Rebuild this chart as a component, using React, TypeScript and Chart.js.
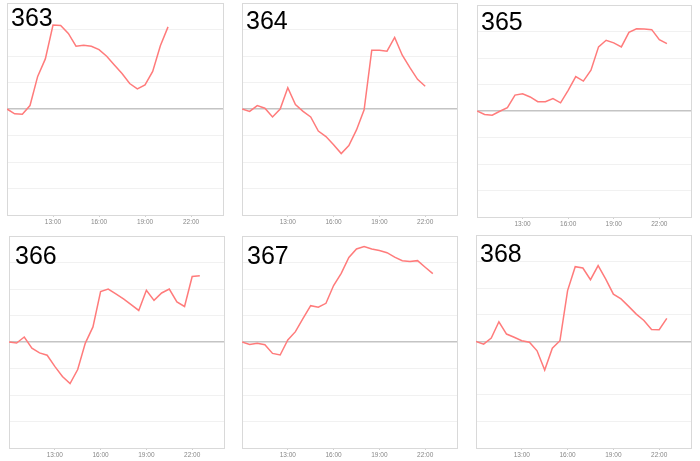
import { useEffect, useRef } from "react"
import { Chart, registerables, type Plugin } from "chart.js"

Chart.register(...registerables)

// half-hour samples, shared by every panel
const times = [
  "10:00", "10:30", "11:00", "11:30", "12:00", "12:30", "13:00", "13:30", "14:00",
  "14:30", "15:00", "15:30", "16:00", "16:30", "17:00", "17:30", "18:00", "18:30",
  "19:00", "19:30", "20:00", "20:30", "21:00", "21:30", "22:00", "22:30",
]
const tickTimes = ["13:00", "16:00", "19:00", "22:00"]
const titles = ["363", "364", "365", "366", "367", "368"]

const s363 = [
  0, -0.18, -0.2, 0.13, 1.23, 1.89, 3.17, 3.15, 2.85, 2.37, 2.41, 2.37, 2.24, 1.99,
  1.66, 1.34, 0.96, 0.76, 0.91, 1.42, 2.39, 3.1,
]
const s364 = [
  0, -0.09, 0.13, 0.03, -0.3, 0, 0.8, 0.17, -0.09, -0.3, -0.83, -1.04, -1.35, -1.68,
  -1.38, -0.79, -0.03, 2.22, 2.22, 2.18, 2.7, 2.03, 1.56, 1.12, 0.86,
]
const s365 = [
  0, -0.13, -0.16, -0.01, 0.13, 0.6, 0.65, 0.53, 0.35, 0.35, 0.47, 0.31, 0.78, 1.3,
  1.13, 1.54, 2.42, 2.67, 2.57, 2.42, 2.97, 3.1, 3.09, 3.07, 2.69, 2.54,
]
const s366 = [
  0, -0.04, 0.19, -0.23, -0.41, -0.5, -0.92, -1.3, -1.57, -1.04, -0.04, 0.57, 1.9, 2.0,
  1.82, 1.63, 1.41, 1.19, 1.95, 1.57, 1.85, 2.0, 1.51, 1.34, 2.47, 2.5,
]
const s367 = [
  0, -0.09, -0.05, -0.1, -0.43, -0.49, 0.08, 0.39, 0.89, 1.37, 1.31, 1.46, 2.13, 2.59,
  3.19, 3.51, 3.6, 3.51, 3.45, 3.37, 3.2, 3.07, 3.04, 3.07, 2.82, 2.58,
]
const s368 = [
  0, -0.1, 0.13, 0.74, 0.28, 0.16, 0.03, -0.03, -0.35, -1.07, -0.25, 0.03, 1.91, 2.81,
  2.76, 2.32, 2.85, 2.34, 1.78, 1.6, 1.32, 1.03, 0.79, 0.45, 0.44, 0.87,
]
const series = [s363, s364, s365, s366, s367, s368]

// plot box [left, top, right, bottom] and title position, page pixels
const boxes = [
  [7, 3, 224, 215],
  [242, 3, 458, 215],
  [477, 5, 692, 217],
  [9, 236, 225, 448],
  [242, 236, 458, 448],
  [476, 235, 692, 448],
]
const titlePos = [
  [11, 5],
  [246, 8],
  [481, 9],
  [15, 243],
  [247, 243],
  [480, 241],
]

const AXIS_H = 16

const toHours = (t: string) => {
  const [h, m] = t.split(":").map(Number)
  return h + m / 60
}

const framePlugin: Plugin<"line"> = {
  id: "frame",
  beforeDatasetsDraw(chart) {
    const { ctx, chartArea: a } = chart
    ctx.save()
    ctx.strokeStyle = "#d9d9d9"
    ctx.lineWidth = 1
    ctx.strokeRect(a.left + 0.5, a.top + 0.5, a.right - a.left - 1, a.bottom - a.top)
    ctx.restore()
  },
}

function Panel({ index }: { index: number }) {
  const chartRef = useRef<HTMLCanvasElement>(null)
  const [l, t, r, b] = boxes[index]
  const w = r - l + 2
  const h = b - t + 1 + AXIS_H

  useEffect(() => {
    if (!chartRef.current) return
    const ctx = chartRef.current.getContext("2d")
    if (!ctx) return

    const values = series[index]
    const chart = new Chart(ctx, {
      type: "line",
      data: {
        datasets: [
          {
            data: values.map((v, i) => ({ x: toHours(times[i]), y: v })),
            borderColor: "#ff7b7b",
            borderWidth: 1.5,
            pointRadius: 0,
            tension: 0,
          },
        ],
      },
      options: {
        responsive: false,
        animation: false,
        layout: { padding: { left: 1, right: 1, top: 1, bottom: 0 } },
        scales: {
          x: {
            type: "linear",
            min: 10,
            max: 24.15,
            afterBuildTicks: (s) => {
              s.ticks = tickTimes.map((tt) => ({ value: toHours(tt) }))
            },
            afterFit: (s) => {
              s.height = AXIS_H
            },
            ticks: {
              autoSkip: false,
              maxRotation: 0,
              padding: 1,
              color: "#888",
              font: { family: "Liberation Sans", size: 6.5 },
              callback: (v) => tickTimes.find((tt) => toHours(tt) === v) ?? "",
            },
            grid: {
              drawOnChartArea: false,
              drawTicks: true,
              tickLength: 2,
              color: "#cfcfcf",
            },
            border: { display: false },
          },
          y: {
            min: -4,
            max: 4,
            afterFit: (s) => {
              s.width = 0
            },
            ticks: { stepSize: 1, display: false },
            grid: {
              drawTicks: false,
              color: (c) => (c.tick && c.tick.value === 0 ? "#c4c4c4" : "#f1f1f1"),
              lineWidth: (c) => (c.tick && c.tick.value === 0 ? 1.6 : 1),
            },
            border: { display: false },
          },
        },
        plugins: {
          legend: { display: false },
          tooltip: { enabled: false },
        },
      },
      plugins: [framePlugin],
    })

    return () => {
      chart.destroy()
    }
  }, [index])

  return (
    <canvas
      ref={chartRef}
      width={w}
      height={h}
      style={{ position: "absolute", left: l - 1, top: t - 1, width: w, height: h }}
    />
  )
}

export default function App() {
  useEffect(() => {
    document.body.style.margin = "0"
  }, [])

  return (
    <div style={{ position: "relative", width: 700, height: 461, background: "#fff" }}>
      {titles.map((title, i) => (
        <Panel key={title} index={i} />
      ))}
      {titles.map((title, i) => (
        <div
          key={"t" + title}
          style={{
            position: "absolute",
            left: titlePos[i][0],
            top: titlePos[i][1],
            fontFamily: "Liberation Sans, sans-serif",
            fontSize: 25,
            lineHeight: 1,
            color: "#000",
          }}
        >
          {title}
        </div>
      ))}
    </div>
  )
}
